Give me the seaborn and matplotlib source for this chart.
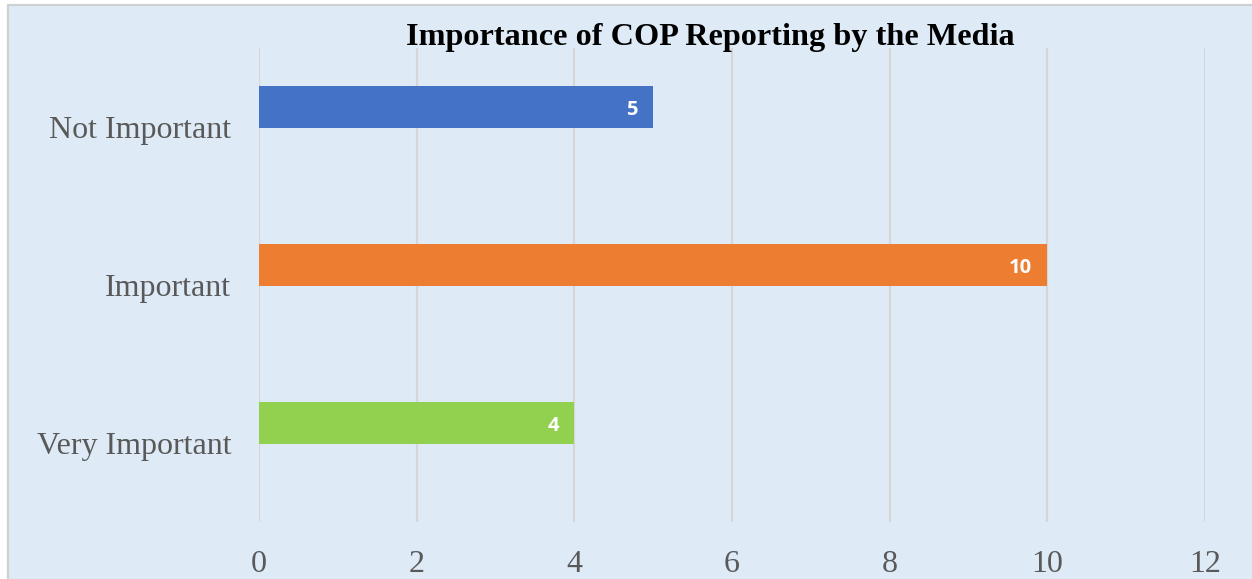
import matplotlib
matplotlib.use("Agg")
import matplotlib.pyplot as plt
import seaborn as sns
import pandas as pd
from matplotlib.patches import Rectangle

categories = ["Not Important", "Important", "Very Important"]
counts = [5, 10, 4]
bar_colors = ["#4472C4", "#ED7D31", "#92D050"]
x_ticks = [0, 2, 4, 6, 8, 10, 12]
title = "Importance of COP Reporting by the Media"

df = pd.DataFrame({"category": categories, "count": counts})

sns.set_theme(style="white")
plt.rcParams["font.family"] = ["Liberation Serif", "DejaVu Serif"]

fig = plt.figure(figsize=(12.52, 5.79), dpi=100, facecolor="white")

# Chart area panel with a light gray border
panel = Rectangle((8 / 1252, -0.05), 1.1, 1 - 5 / 579 + 0.05,
                  transform=fig.transFigure, facecolor="#DEEBF7",
                  edgecolor="#D0D0D0", linewidth=1.6, zorder=-10)
fig.patches.append(panel)

ax = fig.add_axes([259 / 1252, 1 - 522 / 579, (1205 - 259) / 1252, (522 - 48) / 579])
ax.set_facecolor("none")

sns.barplot(data=df, x="count", y="category", hue="category",
            palette=bar_colors, orient="h", width=0.266, saturation=1,
            linewidth=0, legend=False, ax=ax, zorder=3)

ax.set_xlim(0, 12)
ax.set_ylim(2.627, -0.373)
ax.set_xticks(x_ticks)
ax.set_xticklabels([str(t) for t in x_ticks])
ax.xaxis.grid(True, color="#D6D6D6", linewidth=1.6, zorder=0)
ax.yaxis.grid(False)
ax.set_axisbelow(True)

ax.set_yticks([i + 0.13 for i in range(len(categories))])
ax.set_yticklabels(categories)
ax.set_xlabel("")
ax.set_ylabel("")
for s in ax.spines.values():
    s.set_visible(False)
ax.tick_params(axis="both", length=0, labelsize=23, labelcolor="#595959")
ax.tick_params(axis="y", pad=20)
ax.tick_params(axis="x", pad=20)

for i, v in enumerate(counts):
    ax.annotate(str(v), xy=(v, i), xytext=(-11, -2), textcoords="offset points",
                ha="right", va="center", color="white", fontsize=14.5,
                fontweight="bold", family=["Open Sans", "DejaVu Sans"], zorder=4)

fig.text(710 / 1252, 1 - 38 / 579, title, ha="center", va="center",
         fontsize=23.2, fontweight="bold", color="black")

fig.savefig("out.png", dpi=100, facecolor="white")
